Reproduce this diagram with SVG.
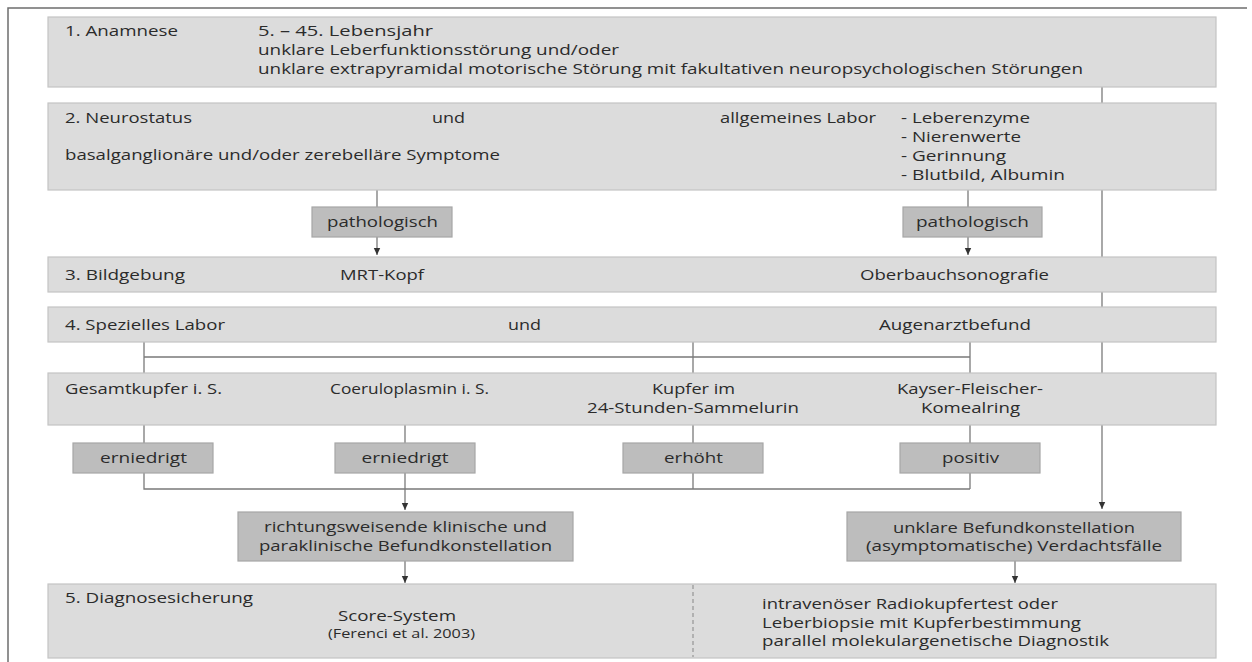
<svg xmlns="http://www.w3.org/2000/svg" width="1252" height="662" viewBox="0 0 1252 662">
<defs>
<style>
.box{fill:#dcdcdc;stroke:#c4c4c4;stroke-width:1.2}
.lbl{fill:#bdbdbd;stroke:#a6a6a6;stroke-width:1.2}
.ln{fill:none;stroke:#7a7a7a;stroke-width:1.3}
.frame{fill:none;stroke:#6e6e6e;stroke-width:1.5}
.dash{fill:none;stroke:#9a9a9a;stroke-width:1.3;stroke-dasharray:4 3}
text{font-family:"Open Sans","Noto Sans","Liberation Sans",sans-serif;font-size:15px;fill:#2b2b2b}
.sm{font-size:13px}
</style>
<marker id="ah" viewBox="0 0 8 8" refX="7" refY="4" markerWidth="8" markerHeight="8" markerUnits="userSpaceOnUse" orient="auto">
<path d="M0,0.8 L7,4 L0,7.2 Z" fill="#333"/>
</marker>
</defs>
<rect width="1252" height="662" fill="#fff"/>
<g id="frame">
<path class="frame" d="M8,662 V8 H1247"/>
</g>
<g id="connectors">
<path class="ln" d="M1102,87 V509" marker-end="url(#ah)"/>
<path class="ln" d="M377,190 V255" marker-end="url(#ah)"/>
<path class="ln" d="M968,190 V255" marker-end="url(#ah)"/>
<path class="ln" d="M144,342 V373 M144,357 H970 M693,342 V373 M970,342 V373"/>
<path class="ln" d="M144,425 V489 H970 M693,425 V489 M970,425 V489"/>
<path class="ln" d="M405,425 V510" marker-end="url(#ah)"/>
<path class="ln" d="M405,561 V583" marker-end="url(#ah)"/>
<path class="ln" d="M1015,561 V583" marker-end="url(#ah)"/>
</g>
<g id="n1">
<rect class="box" x="48" y="17" width="1168" height="70"/>
<text x="65" y="36" textLength="113" lengthAdjust="spacingAndGlyphs">1. Anamnese</text>
<text x="258" y="36" textLength="175" lengthAdjust="spacingAndGlyphs">5. – 45. Lebensjahr</text>
<text x="258" y="55" textLength="361" lengthAdjust="spacingAndGlyphs">unklare Leberfunktionsstörung und/oder</text>
<text x="258" y="74" textLength="825" lengthAdjust="spacingAndGlyphs">unklare extrapyramidal motorische Störung mit fakultativen neuropsychologischen Störungen</text>
</g>
<g id="n2">
<rect class="box" x="48" y="103" width="1168" height="87"/>
<text x="65" y="123" textLength="127" lengthAdjust="spacingAndGlyphs">2. Neurostatus</text>
<text x="432" y="123" textLength="33" lengthAdjust="spacingAndGlyphs">und</text>
<text x="720" y="123" textLength="156" lengthAdjust="spacingAndGlyphs">allgemeines Labor</text>
<text x="901" y="123" textLength="129" lengthAdjust="spacingAndGlyphs">- Leberenzyme</text>
<text x="901" y="142" textLength="120" lengthAdjust="spacingAndGlyphs">- Nierenwerte</text>
<text x="901" y="161" textLength="105" lengthAdjust="spacingAndGlyphs">- Gerinnung</text>
<text x="901" y="180" textLength="164" lengthAdjust="spacingAndGlyphs">- Blutbild, Albumin</text>
<text x="65" y="160" textLength="435" lengthAdjust="spacingAndGlyphs">basalganglionäre und/oder zerebelläre Symptome</text>
</g>
<g id="path1">
<rect class="lbl" x="312" y="207" width="140" height="30"/>
<text x="327" y="227" textLength="111" lengthAdjust="spacingAndGlyphs">pathologisch</text>
</g>
<g id="path2">
<rect class="lbl" x="903" y="207" width="139" height="30"/>
<text x="916" y="227" textLength="113" lengthAdjust="spacingAndGlyphs">pathologisch</text>
</g>
<g id="n3">
<rect class="box" x="48" y="257" width="1168" height="35"/>
<text x="65" y="280" textLength="120" lengthAdjust="spacingAndGlyphs">3. Bildgebung</text>
<text x="340" y="280" textLength="84" lengthAdjust="spacingAndGlyphs">MRT-Kopf</text>
<text x="860" y="280" textLength="189" lengthAdjust="spacingAndGlyphs">Oberbauchsonografie</text>
</g>
<g id="n4">
<rect class="box" x="48" y="307" width="1168" height="35"/>
<text x="65" y="330" textLength="160" lengthAdjust="spacingAndGlyphs">4. Spezielles Labor</text>
<text x="508" y="330" textLength="33" lengthAdjust="spacingAndGlyphs">und</text>
<text x="879" y="330" textLength="152" lengthAdjust="spacingAndGlyphs">Augenarztbefund</text>
</g>
<g id="n5">
<rect class="box" x="48" y="373" width="1168" height="52"/>
<text x="65" y="394" textLength="157" lengthAdjust="spacingAndGlyphs">Gesamtkupfer i. S.</text>
<text x="330" y="394" textLength="159" lengthAdjust="spacingAndGlyphs">Coeruloplasmin i. S.</text>
<text x="652" y="394" textLength="83" lengthAdjust="spacingAndGlyphs">Kupfer im</text>
<text x="587" y="413" textLength="212" lengthAdjust="spacingAndGlyphs">24-Stunden-Sammelurin</text>
<text x="897" y="394" textLength="146" lengthAdjust="spacingAndGlyphs">Kayser-Fleischer-</text>
<text x="921" y="413" textLength="99" lengthAdjust="spacingAndGlyphs">Komealring</text>
</g>
<g id="l1">
<rect class="lbl" x="73" y="443" width="140" height="30"/>
<text x="100" y="463" textLength="87" lengthAdjust="spacingAndGlyphs">erniedrigt</text>
</g>
<g id="l2">
<rect class="lbl" x="335" y="443" width="140" height="30"/>
<text x="361.5" y="463" textLength="87" lengthAdjust="spacingAndGlyphs">erniedrigt</text>
</g>
<g id="l3">
<rect class="lbl" x="623" y="443" width="140" height="30"/>
<text x="664" y="463" textLength="59" lengthAdjust="spacingAndGlyphs">erhöht</text>
</g>
<g id="l4">
<rect class="lbl" x="900" y="443" width="140" height="30"/>
<text x="942" y="463" textLength="57" lengthAdjust="spacingAndGlyphs">positiv</text>
</g>
<g id="r1">
<rect class="lbl" x="238" y="512" width="335" height="49"/>
<text x="264" y="532" textLength="283" lengthAdjust="spacingAndGlyphs">richtungsweisende klinische und</text>
<text x="259" y="551" textLength="293" lengthAdjust="spacingAndGlyphs">paraklinische Befundkonstellation</text>
</g>
<g id="r2">
<rect class="lbl" x="847" y="512" width="334" height="49"/>
<text x="893" y="533" textLength="242" lengthAdjust="spacingAndGlyphs">unklare Befundkonstellation</text>
<text x="866" y="551" textLength="296" lengthAdjust="spacingAndGlyphs">(asymptomatische) Verdachtsfälle</text>
</g>
<g id="n6">
<rect class="box" x="48" y="584" width="1168" height="74"/>
<path class="dash" d="M693,585 V657"/>
<text x="65" y="603" textLength="188" lengthAdjust="spacingAndGlyphs">5. Diagnosesicherung</text>
<text x="338" y="621" textLength="118" lengthAdjust="spacingAndGlyphs">Score-System</text>
<text class="sm" x="328" y="638" textLength="147" lengthAdjust="spacingAndGlyphs">(Ferenci et al. 2003)</text>
<text x="762" y="609" textLength="296" lengthAdjust="spacingAndGlyphs">intravenöser Radiokupfertest oder</text>
<text x="762" y="628" textLength="319" lengthAdjust="spacingAndGlyphs">Leberbiopsie mit Kupferbestimmung</text>
<text x="762" y="646" textLength="347" lengthAdjust="spacingAndGlyphs">parallel molekulargenetische Diagnostik</text>
</g>
</svg>
